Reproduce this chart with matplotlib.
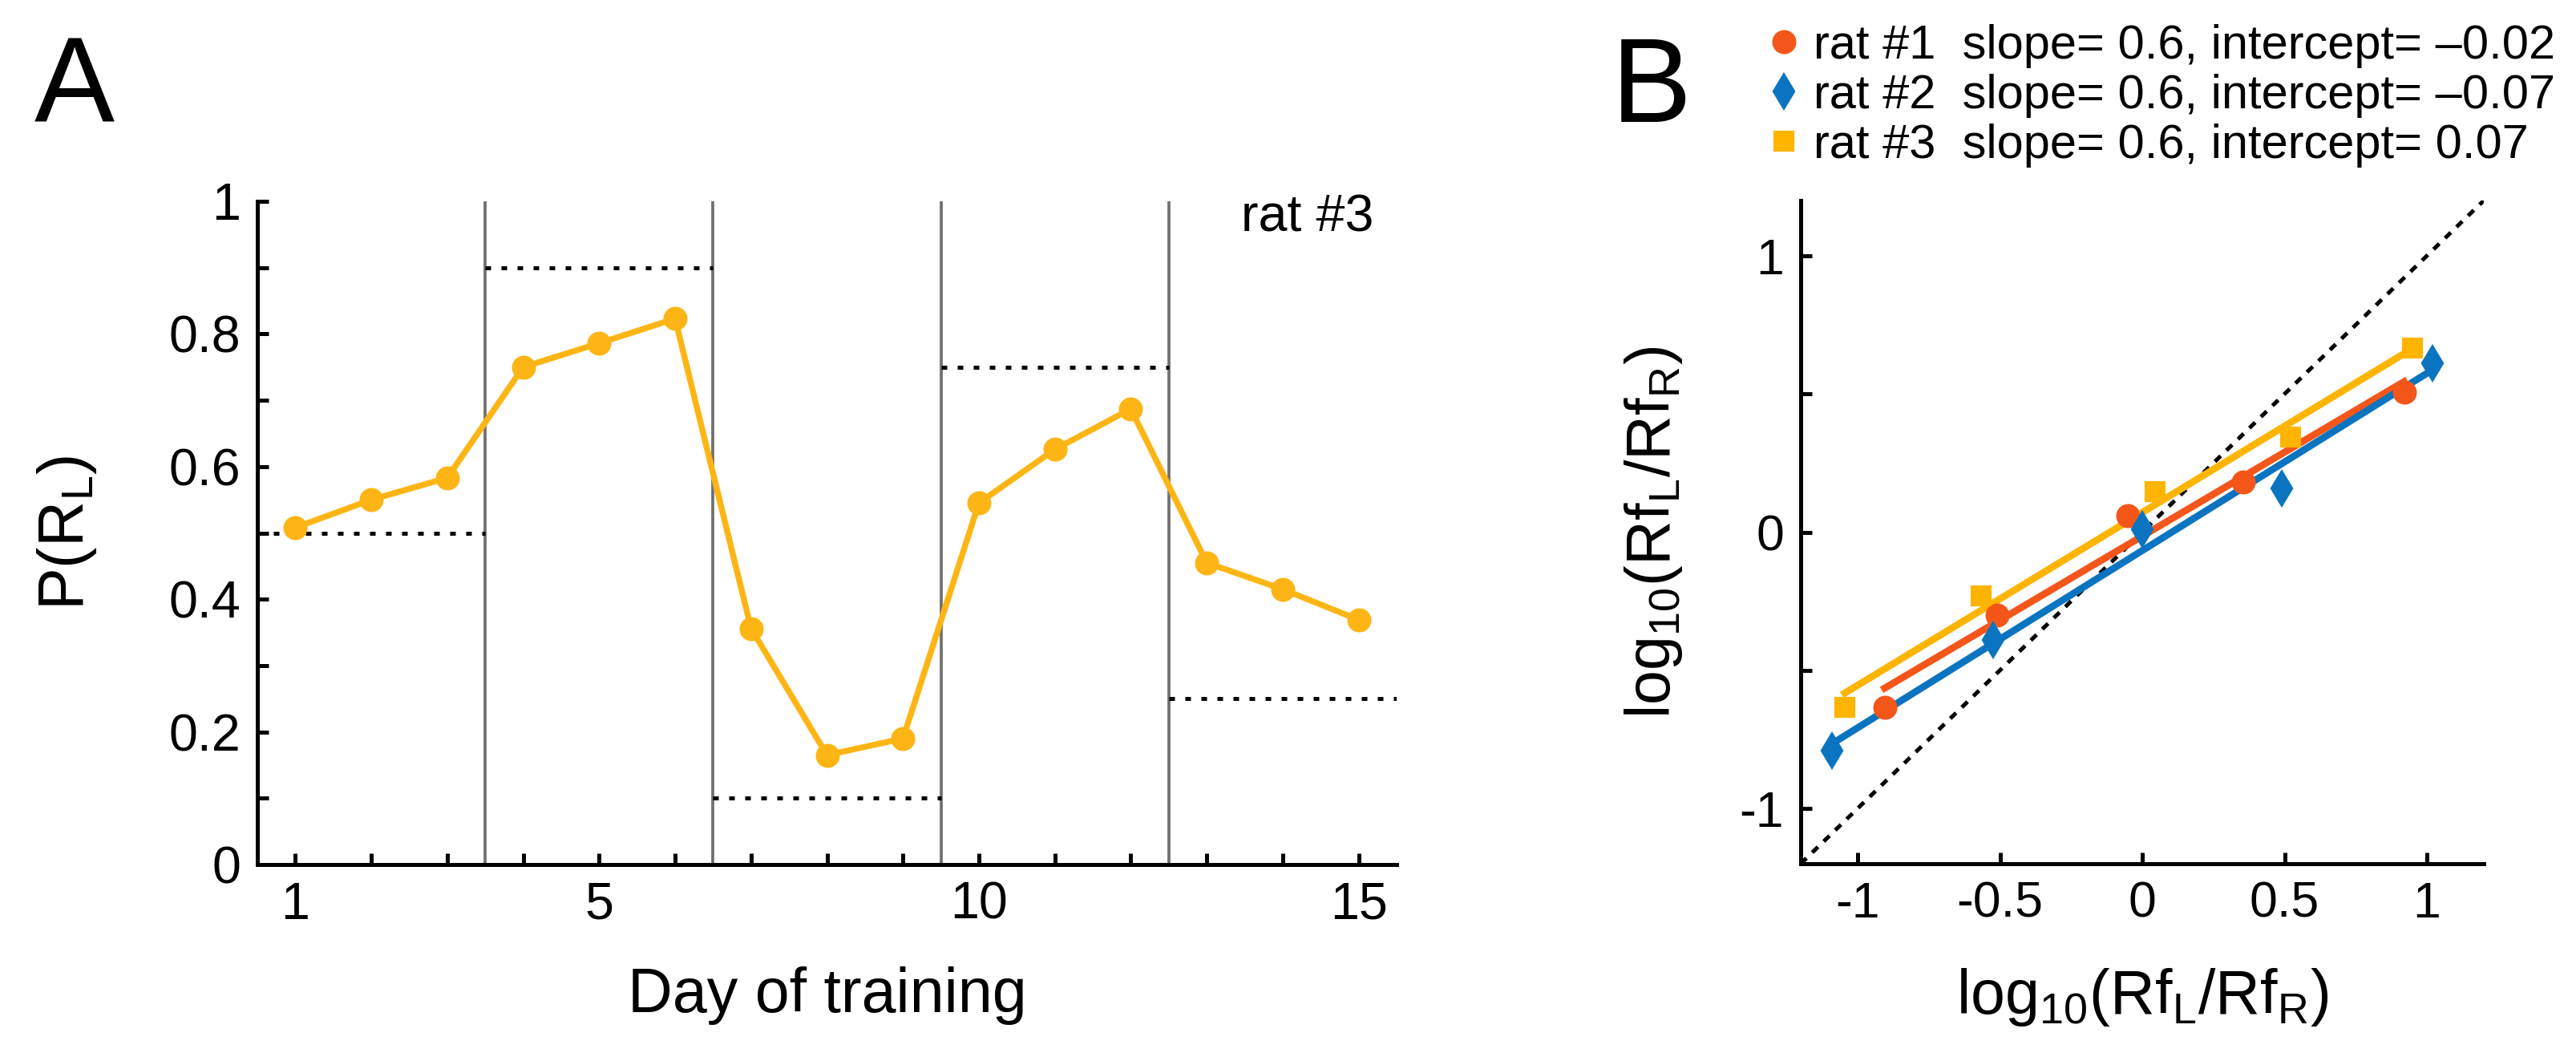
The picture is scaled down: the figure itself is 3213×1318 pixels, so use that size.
import numpy as np
import matplotlib
matplotlib.use("Agg")
import matplotlib.pyplot as plt
from matplotlib.lines import Line2D

plt.rcParams['font.family'] = ['Liberation Sans', 'DejaVu Sans']
plt.rcParams['mathtext.fontset'] = 'custom'
plt.rcParams['mathtext.rm'] = 'Liberation Sans'

# ---------------- data: panel A ----------------
days = [1, 2, 3, 4, 5, 6, 7, 8, 9, 10, 11, 12, 13, 14, 15]
p_left = [0.508, 0.550, 0.583, 0.750, 0.786, 0.823, 0.356, 0.165, 0.190,
          0.545, 0.626, 0.687, 0.455, 0.415, 0.369]
block_edges = [0.5, 3.5, 6.5, 9.5, 12.5, 15.5]
block_target = [0.5, 0.9, 0.1, 0.75, 0.25]

# ---------------- data: panel B ----------------
rat1_x = [-0.905, -0.51, -0.05, 0.356, 0.92]
rat1_y = [-0.633, -0.30, 0.06, 0.18, 0.505]
rat2_x = [-1.09, -0.525, 0.0, 0.49, 1.02]
rat2_y = [-0.79, -0.39, 0.01, 0.157, 0.612]
rat3_x = [-1.045, -0.565, 0.045, 0.52, 0.95]
rat3_y = [-0.633, -0.23, 0.148, 0.343, 0.667]
rat_labels = ["rat #1  slope= 0.6, intercept= \u20130.02",
              "rat #2  slope= 0.6, intercept= \u20130.07",
              "rat #3  slope= 0.6, intercept= 0.07"]

C_ORANGE = '#F4561A'
C_BLUE = '#0A74C0'
C_YELLOW = '#FFB400'
C_LINE_A = '#FDB515'

W, H = 3213, 1318
DPI = 300
fig = plt.figure(figsize=(W / DPI, H / DPI), dpi=DPI)

def style_axes(ax):
    for s in ['top', 'right']:
        ax.spines[s].set_visible(False)
    for s in ['left', 'bottom']:
        ax.spines[s].set_linewidth(1.2)
    ax.tick_params(direction='in', length=3.4, width=1.2, pad=5)

# ---------------- panel A ----------------
axA = fig.add_axes([321 / W, (H - 1078) / H, (1742 - 321) / W, (1078 - 251) / H])
style_axes(axA)
for xb in block_edges[1:-1]:
    axA.axvline(xb, ymin=0, ymax=1, color='#707070', lw=0.9, zorder=1)
for i, t in enumerate(block_target):
    axA.plot([block_edges[i], block_edges[i + 1]], [t, t], color='black', lw=1.2,
             linestyle=(0, (1.4, 2.6)), dash_capstyle='butt', zorder=2)
axA.plot(days, p_left, '-o', color=C_LINE_A, lw=1.8, ms=6.2, zorder=3)
axA.set_xlim(0.5, 15.5)
axA.set_ylim(0, 1)
axA.set_xticks(days)
axA.set_xticklabels([str(d) if d in (1, 5, 10, 15) else '' for d in days], fontsize=15.5)
yt = np.round(np.arange(0, 1.01, 0.1), 1)
axA.set_yticks(yt)
axA.set_yticklabels([('0' if v == 0 else ('1' if v == 1 else f'{v:g}')) if abs(v * 10 % 2) < 1e-6 else ''
                     for v in yt], fontsize=15.5)
axA.set_xlabel('Day of training', fontsize=18.5)
axA.set_ylabel(r'P(R$_{\mathregular{L}}$)', fontsize=19)
axA.yaxis.set_label_coords(-0.139, 0.5)
axA.xaxis.set_label_coords(0.5, -0.154)
axA.text(15.2, 0.955, 'rat #3', ha='right', va='baseline', fontsize=15.5)

# ---------------- panel B ----------------
axB = fig.add_axes([2246 / W, (H - 1077) / H, (3098 - 2246) / W, (1077 - 250) / H])
style_axes(axB)
axB.plot([-1.2, 1.2], [-1.2, 1.2], color='black', lw=1.2, linestyle=(0, (2, 2)), zorder=1)

series = [(rat1_x, rat1_y, C_ORANGE, 'o', 6.2),
          (rat2_x, rat2_y, C_BLUE, 'd', 6.8),
          (rat3_x, rat3_y, C_YELLOW, 's', 5.4)]
handles = []
for xs, ys, col, mk, ms in series:
    xs = np.asarray(xs); ys = np.asarray(ys)
    axB.plot(xs, ys, linestyle='none', marker=mk, ms=ms, color=col, mec=col, zorder=3)
    k, b = np.polyfit(xs, ys, 1)
    xx = np.array([xs.min(), xs.max()])
    axB.plot(xx, k * xx + b, color=col, lw=2.1, zorder=2)
    handles.append(Line2D([], [], linestyle='none', marker=mk, ms=ms, color=col, mec=col))

axB.set_xlim(-1.2, 1.2)
axB.set_ylim(-1.2, 1.2)
bt = [-1, -0.5, 0, 0.5, 1]
axB.set_xticks(bt)
axB.set_xticklabels(['-1', '-0.5', '0', '0.5', '1'], fontsize=15)
axB.set_yticks(bt)
axB.set_yticklabels(['-1', '', '0', '', '1'], fontsize=15)
lab = r'log$_{\mathregular{10}}$(Rf$_{\mathregular{L}}$/Rf$_{\mathregular{R}}$)'
axB.set_xlabel(lab, fontsize=18.5)
axB.set_ylabel(lab, fontsize=18.5)
axB.yaxis.set_label_coords(-0.170, 0.5)
axB.xaxis.set_label_coords(0.5, -0.155)

fig.legend(handles, rat_labels, loc='upper left',
           bbox_to_anchor=(2195 / W, 1 - 30 / H), frameon=False, fontsize=14.3,
           handlelength=1.0, handletextpad=0.12, labelspacing=0.12, borderpad=0,
           borderaxespad=0)

# panel letters
fig.text(43 / W, 1 - 152 / H, 'A', fontsize=36, va='baseline', ha='left')
fig.text(2010 / W, 1 - 152 / H, 'B', fontsize=36, va='baseline', ha='left')

fig.savefig('out.png', dpi=DPI, facecolor='white')
